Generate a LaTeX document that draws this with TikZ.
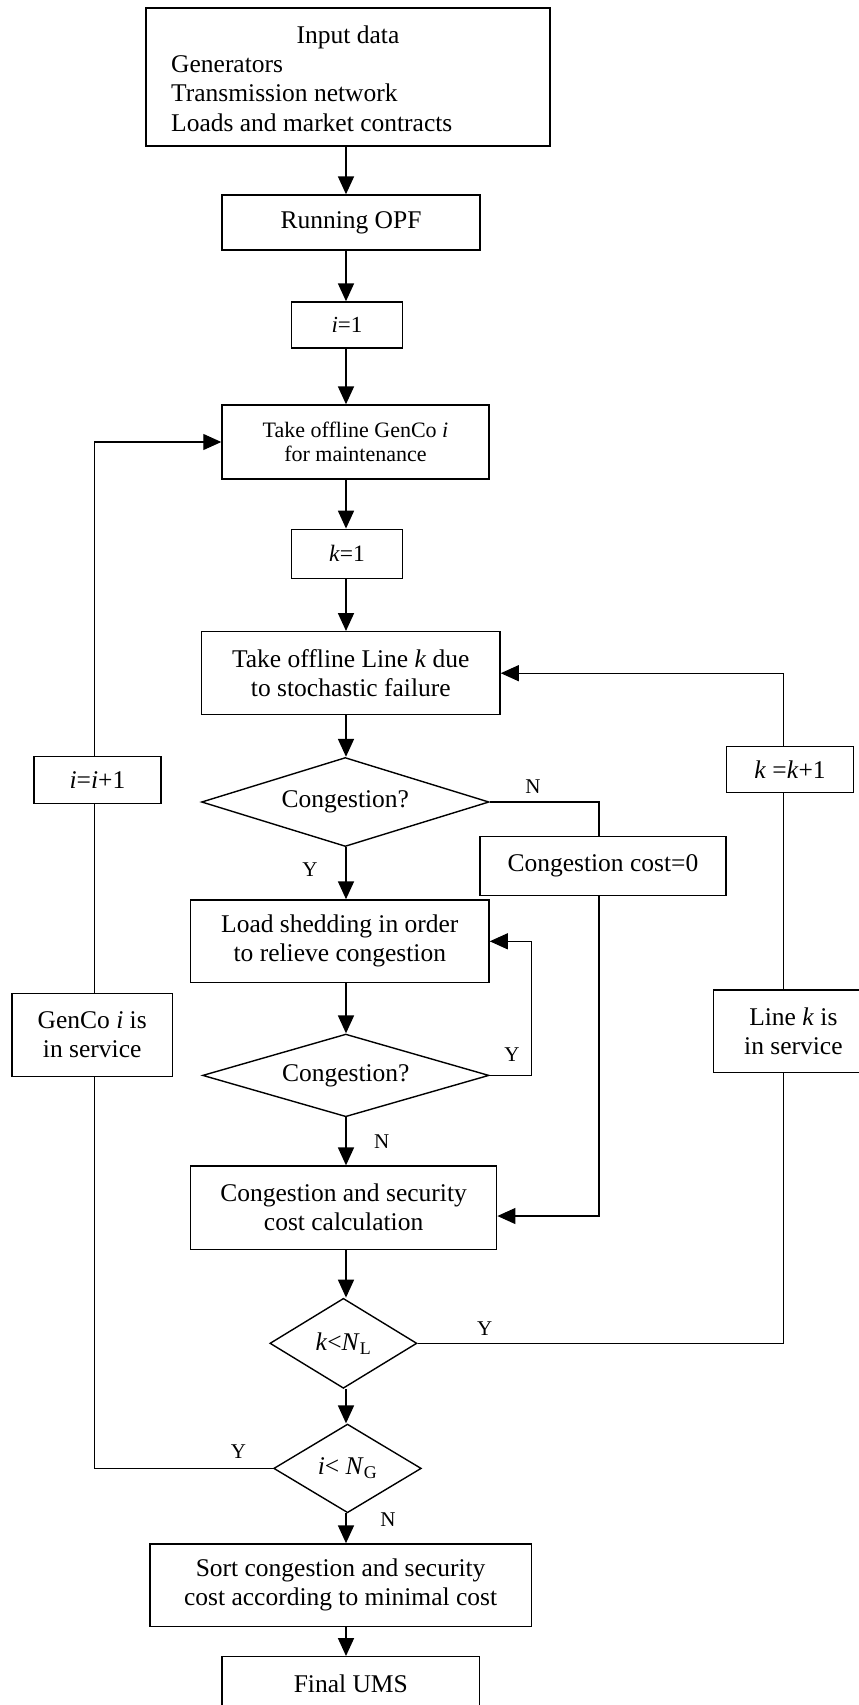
\documentclass[tikz,border=0pt]{standalone}
\usepackage{fontspec}
\setmainfont{Liberation Serif}
\usetikzlibrary{arrows.meta,shapes.geometric}
\begin{document}
\begin{tikzpicture}[x=1pt,y=-1pt,
  box/.style={draw,line width=1.4pt,inner sep=0pt,align=center,font=\fontsize{25.5}{29}\selectfont},
  dia/.style={draw,shape=diamond,line width=1.4pt,inner sep=0pt,font=\fontsize{25.5}{29}\selectfont},
  txt/.style={inner sep=0pt,font=\fontsize{25.5}{29}\selectfont},
  flow/.style={line width=1.8pt,-{Triangle[length=18pt,width=16pt]}},
  loopl/.style={line width=1.1pt},
  loopa/.style={line width=1.1pt,-{Triangle[length=18pt,width=16pt]}},
  lab/.style={font=\fontsize{21}{24}\selectfont,inner sep=0pt}]
\useasboundingbox (0,0) rectangle (859,1705);
\clip (0,0) rectangle (859,1705);

\coordinate (cx) at (346,0);
\coordinate (lx) at (94.7,0);
\coordinate (rx) at (783.6,0);
\coordinate (nx) at (599,0);
\coordinate (yx) at (531.4,0);
\coordinate (cy) at (0,1216);

% boxes
\node[box,minimum width=404pt,minimum height=138pt] (inp) at (348,77) {};
\node[txt,anchor=base] (t1) at (348,43.3) {Input data};
\node[txt,anchor=base west] (t2) at (171,72.7) {Generators};
\node[txt,anchor=base west] (t3) at (171,101.7) {Transmission network};
\node[txt,anchor=base west] (t4) at (171,131.7) {Loads and market contracts};

\node[box,minimum width=258pt,minimum height=55pt] (opf) at (351,222.5) {Running OPF};
\node[box,minimum width=110.5pt,minimum height=46pt,font=\fontsize{23}{26}\selectfont] (i1) at (347,325) {\textit{i}=1};
\node[box,minimum width=267pt,minimum height=74pt,font=\fontsize{22}{24.5}\selectfont] (gen) at (355.5,442) {Take offline GenCo \textit{i}\\for maintenance};
\node[box,minimum width=110.5pt,minimum height=49pt,font=\fontsize{23.5}{26}\selectfont] (k1) at (347,553.8) {\textit{k}=1};
\node[box,minimum width=298.5pt,minimum height=83pt] (line) at (350.8,673.2) {Take offline Line \textit{k} due\\to stochastic failure};
\node[dia,aspect=3.2,minimum width=287.5pt,minimum height=89pt] (d1) at (345.3,802) {Congestion?};
\node[box,minimum width=127pt,minimum height=46.6pt] (ii) at (97.5,780) {\textit{i}=\textit{i}+1};
\node[box,minimum width=126.5pt,minimum height=45.6pt] (kk) at (790,769.5) {\textit{k} =\textit{k}+1};
\node[box,minimum width=245.8pt,minimum height=59pt] (cc0) at (602.9,866.2) {Congestion cost=0};
\node[box,minimum width=298.5pt,minimum height=82.7pt] (shed) at (339.8,941.3) {Load shedding in order\\to relieve congestion};
\node[dia,aspect=3.4,minimum width=286.4pt,minimum height=82.7pt] (d2) at (345.8,1075.4) {Congestion?};
\node[box,minimum width=306.2pt,minimum height=83.3pt] (csc) at (343.6,1207.7) {Congestion and security\\cost calculation};
\node[box,minimum width=160.4pt,minimum height=83.4pt] (gsvc) at (92.2,1035) {GenCo \textit{i} is\\in service};
\node[box,minimum width=159.3pt,minimum height=82.7pt] (lsvc) at (793.4,1031.4) {Line \textit{k} is\\in service};
\node[dia,aspect=1.6,minimum width=147pt,minimum height=90pt] (d3) at (343.4,1343.3) {\textit{k}<\textit{N}\textsubscript{L}};
\node[dia,aspect=1.6,minimum width=147.6pt,minimum height=88.7pt] (d4) at (347.5,1468.4) {\textit{i}< \textit{N}\textsubscript{G}};
\node[box,minimum width=381.6pt,minimum height=82.7pt] (sort) at (340.6,1585.3) {Sort congestion and security\\cost according to minimal cost};
\node[box,minimum width=257.6pt,minimum height=54.6pt] (fin) at (350.8,1684) {Final UMS};

% main flow
\draw[flow] (inp.south -| cx) -- (opf.north -| cx);
\draw[flow] (opf.south -| cx) -- (i1.north -| cx);
\draw[flow] (i1.south -| cx) -- (gen.north -| cx);
\draw[flow] (gen.south -| cx) -- (k1.north -| cx);
\draw[flow] (k1.south -| cx) -- (line.north -| cx);
\draw[flow] (line.south -| cx) -- (d1.north -| cx);
\draw[flow] (d1.south -| cx) -- (shed.north -| cx);
\draw[flow] (shed.south -| cx) -- (d2.north -| cx);
\draw[flow] (d2.south -| cx) -- (csc.north -| cx);
\draw[flow] (csc.south -| cx) -- (d3.north -| cx);
\draw[flow] (d3.south -| cx) -- (d4.north -| cx);
\draw[flow] (d4.south -| cx) -- (sort.north -| cx);
\draw[flow] (sort.south -| cx) -- (fin.north -| cx);

% side branches
\draw[loopl] (d1.east) -| (cc0.north -| nx);
\draw[loopa] (cc0.south -| nx) |- (csc.east |- cy);
\draw[loopa] (d2.east) -| (yx |- shed.east) -- (shed.east);
\draw[loopl] (d3.east) -| (lsvc.south -| rx);
\draw[loopl] (lsvc.north -| rx) -- (kk.south -| rx);
\draw[loopa] (kk.north -| rx) |- (line.east);
\draw[loopl] (d4.west) -| (gsvc.south -| lx);
\draw[loopl] (gsvc.north -| lx) -- (ii.south -| lx);
\draw[loopa] (ii.north -| lx) |- (gen.west);

% labels
\node[lab] (yl1) at (310,870) {Y};
\node[lab] (nl1) at (533,786.7) {N};
\node[lab] (yl2) at (512,1055) {Y};
\node[lab] (nl2) at (381.6,1141.7) {N};
\node[lab] (yl3) at (484.6,1328.3) {Y};
\node[lab] (yl4) at (238.4,1451.7) {Y};
\node[lab] (nl4) at (388,1519.3) {N};
\end{tikzpicture}
\end{document}
